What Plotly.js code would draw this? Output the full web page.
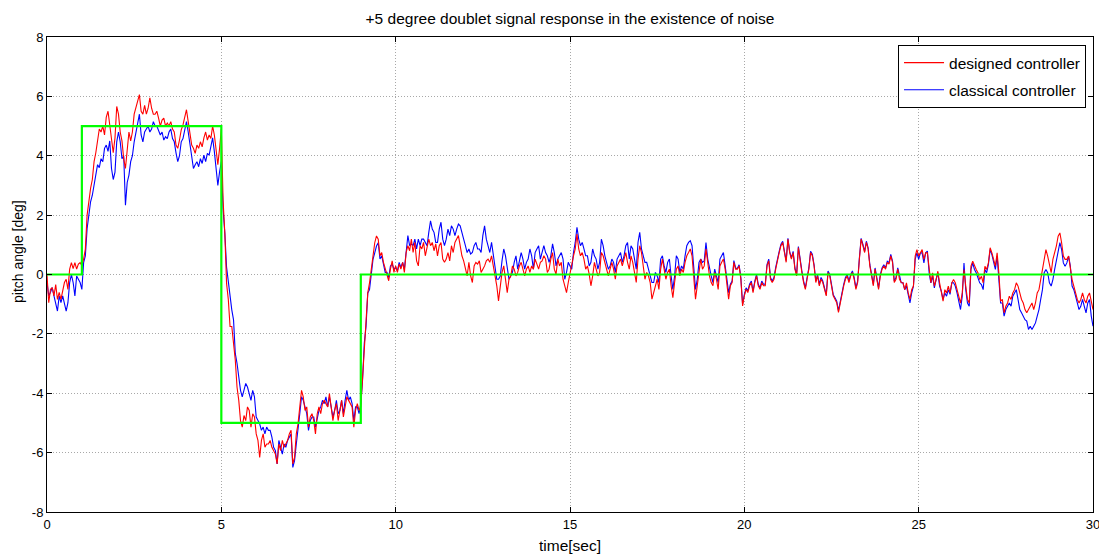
<!DOCTYPE html>
<html>
<head>
<meta charset="utf-8">
<script src="https://cdn.plot.ly/plotly-3.0.1.min.js"></script>
<style>
  html, body { margin: 0; padding: 0; background: #ffffff; }
  #chart { width: 1099px; height: 558px; }
</style>
</head>
<body>
<div id="chart"></div>
<script>
// Sampling step of the read-off series (seconds); one row = one second (20 samples)
const dt = 0.05;

// designed controller (red)
const designed = [
  0.0,-0.95,-0.5,-0.44,-0.72,-0.34,-0.84,-0.6,-0.84,-0.5, -0.27,-0.16,-0.5,0.18,0.4,0.2,0.4,0.18,0.35,0.4,
  0.3,0.52,0.86,2.0,2.55,2.9,3.2,3.8,4.1,4.6, 4.9,4.8,5.0,4.7,5.3,5.5,5.0,4.7,4.1,4.6,
  5.66,5.4,4.8,4.5,3.9,3.57,4.1,4.8,4.5,4.8, 5.4,5.6,5.8,6.06,5.5,5.4,5.7,5.4,5.6,5.95,
  5.6,5.4,5.4,5.5,5.27,5.0,5.2,5.27,5.0,5.1, 5.0,5.15,4.9,4.8,4.36,4.25,4.53,4.87,5.04,5.27,
  5.55,5.15,4.8,4.36,4.25,4.08,4.36,4.25,4.47,4.3, 4.6,4.8,4.53,4.7,4.58,5.0,4.7,4.25,3.7,4.25,
  4.9,2.5,1.4,-0.3,-0.84,-1.75,-1.75,-2.32,-2.88,-3.79, -4.24,-4.92,-5.14,-4.75,-4.92,-4.46,-4.58,-5.14,-4.69,-4.8,
  -5.37,-5.59,-6.16,-5.59,-5.37,-5.82,-5.71,-5.71,-5.59,-5.82, -5.93,-6.05,-6.38,-5.71,-5.93,-5.59,-5.82,-5.71,-5.59,-5.37,
  -5.25,-6.38,-6.16,-5.37,-5.03,-4.46,-3.9,-4.12,-4.58,-4.46, -5.14,-4.8,-4.69,-4.92,-5.37,-4.69,-4.46,-4.69,-4.35,-4.24,
  -4.35,-4.46,-4.01,-4.46,-4.92,-4.58,-4.35,-4.92,-4.58,-4.24, -4.8,-4.46,-4.12,-4.24,-4.35,-4.46,-5.14,-4.58,-4.35,-4.58,
  -4.46,-3.56,-2.43,-1.86,-0.62,-0.28,0.17,0.73,1.07,1.3, 1.19,0.63,0.74,0.41,0.18,-0.05,-0.21,0.18,0.46,0.07,
  0.29,0.07,0.35,0.18,0.41,0.07,0.74,0.97,0.8,1.19, 0.74,1.08,0.46,0.29,0.97,0.86,1.08,0.63,0.86,1.19,
  0.97,1.08,0.8,1.03,0.63,0.97,1.08,0.52,0.41,0.52, 0.74,0.46,0.97,0.74,1.08,1.19,1.31,0.97,0.63,0.46,
  0.18,-0.05,0.41,-0.05,-0.27,0.29,0.41,0.35,0.46,0.07, 0.18,0.29,0.46,0.52,0.41,0.63,0.29,-0.05,-0.38,-0.89,
  -0.38,0.07,0.29,-0.27,-0.61,-0.16,-0.05,0.29,0.18,-0.05, 0.07,0.29,0.41,0.18,-0.05,0.18,0.29,0.07,0.29,0.18,
  0.52,0.35,0.18,0.41,0.46,0.63,0.52,0.07,0.18,0.52, 0.74,0.18,0.01,0.52,0.29,0.41,-0.16,-0.38,-0.61,-0.27,
  0.07,0.29,0.63,0.86,1.36,0.86,0.63,0.74,0.52,0.18, 0.29,0.01,-0.38,-0.05,0.41,0.18,-0.05,0.07,0.74,0.63,
  0.41,0.18,-0.05,0.18,0.41,0.18,-0.16,0.29,0.41,0.52, 0.29,0.52,0.74,0.41,0.18,0.63,0.41,0.07,-0.27,0.52,
  0.97,0.74,0.18,-0.16,0.07,-0.05,-0.27,-0.83,-0.61,-0.38, -0.16,-0.5,0.18,0.52,0.18,-0.16,0.07,0.18,-0.38,-0.78,
  -0.27,0.18,0.29,-0.05,0.18,0.07,0.41,0.63,0.74,0.86, 0.63,-0.05,-0.83,-0.38,0.18,0.52,0.18,0.29,0.86,0.29,
  -0.05,-0.27,-0.38,0.07,-0.16,-0.5,0.29,0.41,0.52,0.18, -0.38,-0.83,-0.38,-0.27,0.41,0.18,0.18,0.29,-0.16,-1.06,
  -0.72,-0.5,-0.61,-0.38,-0.27,-0.61,-0.27,-0.05,-0.38,-0.5, -0.27,-0.38,-0.38,0.29,0.46,-0.16,-0.27,-0.16,0.18,0.52,
  0.74,0.97,1.08,0.74,0.41,1.19,0.74,0.52,0.74,0.18, -0.05,0.91,0.41,0.07,-0.27,-0.5,-0.16,0.18,0.74,0.63,
  0.29,-0.27,-0.05,-0.38,-0.16,-0.27,-0.5,-0.72,0.07,-0.05, -0.38,-0.72,-0.83,-0.95,-1.28,-0.95,-0.61,-0.38,-0.16,-0.05,
  -0.27,-0.05,0.07,-0.16,-0.5,-0.27,0.52,1.19,0.97,0.74, 1.08,0.86,0.29,-0.05,-0.38,0.18,-0.16,-0.5,-0.05,0.18,
  0.29,0.18,0.41,0.35,0.63,0.41,-0.27,-0.16,0.18,-0.16, -0.27,-0.28,-0.51,-0.28,-0.62,-0.84,-0.51,-0.39,0.62,0.84,
  0.62,0.73,0.84,0.51,0.73,0.73,0.17,-0.28,0.06,-0.39, -0.17,0.11,-0.28,-0.62,-0.9,-0.51,-0.62,-0.39,-0.62,-0.28,
  -0.17,-0.28,-0.51,-0.79,-0.96,-0.62,0.17,-0.39,-0.84,-0.96, 0.28,0.45,0.28,0.17,0.06,-0.17,-0.06,-0.28,0.28,0.17,
  0.39,0.9,0.73,0.51,0.28,0.73,0.06,-0.9,-0.84,-1.29, -1.07,-0.96,-0.73,-0.84,-0.62,-0.51,-0.28,-0.39,-0.62,-0.84,
  -0.96,-1.18,-1.29,-1.18,-1.07,-0.96,-1.18,-0.96,-0.62,-0.51, -0.17,0.17,0.51,0.84,0.62,0.28,0.06,0.51,0.73,0.96,
  1.29,1.4,1.07,0.62,0.51,0.51,0.62,0.17,-0.17,-0.39, -0.62,-0.84,-0.96,-0.84,-0.62,-0.84,-0.96,-0.73,-0.62,-0.96,
  -1.18
];

// classical controller (blue)
const classical = [
  -0.27,-0.72,-0.6,-0.44,-0.72,-0.95,-1.23,-0.72,-0.95,-0.72, -0.95,-1.23,-0.95,-0.27,0.0,-0.27,-0.72,-0.05,-0.16,-0.27,
  -0.5,0.4,0.63,1.54,2.0,2.45,2.67,3.0,3.45,3.7, 3.6,3.9,3.8,4.25,4.36,4.15,4.5,3.57,3.2,3.45,
  4.47,4.8,4.47,3.9,4.0,2.33,3.1,3.35,3.8,4.0, 4.47,4.8,5.15,5.4,4.7,4.47,4.8,4.9,5.0,4.8,
  4.9,5.15,5.0,5.0,4.87,4.7,4.8,4.53,4.64,4.58, 4.8,4.9,4.58,4.47,4.1,3.8,4.0,4.47,4.58,4.9,
  5.15,4.8,4.36,4.0,3.57,3.7,3.8,3.63,3.9,3.74, 4.02,3.8,4.08,4.02,4.36,4.6,4.14,3.57,3.0,3.46,
  3.8,2.2,1.4,0.25,-0.27,-0.85,-1.19,-1.53,-2.66,-2.99, -3.56,-3.9,-4.12,-3.9,-3.67,-3.79,-4.01,-4.24,-3.9,-4.12,
  -4.8,-4.92,-5.03,-5.25,-5.14,-5.37,-5.14,-5.25,-5.25,-5.48, -5.82,-5.93,-6.38,-5.59,-5.82,-6.05,-5.71,-5.82,-5.59,-5.48,
  -5.37,-6.5,-6.27,-5.71,-5.25,-4.69,-4.12,-4.24,-4.46,-4.69, -5.25,-4.92,-4.8,-4.8,-5.14,-4.8,-4.58,-4.46,-4.24,-4.35,
  -4.12,-4.46,-4.12,-4.46,-4.8,-4.58,-4.24,-4.69,-4.58,-4.24, -4.69,-4.24,-3.9,-4.24,-4.12,-4.35,-4.92,-4.46,-4.46,-4.69,
  -4.35,-3.56,-2.32,-1.75,-0.62,-0.51,0.06,0.51,0.73,0.96, 1.07,0.52,0.63,0.29,0.07,0.07,-0.1,0.29,0.35,0.18,
  0.24,0.12,0.41,0.24,0.41,0.18,0.74,1.31,0.97,1.03, 0.97,1.19,0.86,1.19,0.97,1.19,1.19,1.08,0.97,1.42,
  1.81,1.53,1.42,1.08,1.08,1.53,1.76,1.19,0.97,1.19, 1.53,1.31,1.64,1.53,1.31,1.53,1.7,1.64,1.36,1.19,
  0.97,0.74,0.86,0.69,0.74,0.97,1.08,0.86,0.86,0.74, 1.31,1.64,1.19,0.97,0.74,1.08,0.63,0.18,-0.16,-0.16,
  -0.05,0.46,0.86,0.63,0.18,-0.16,-0.05,0.07,0.41,0.63, 0.18,0.52,0.74,0.52,0.18,0.41,0.52,0.86,0.63,0.18,
  0.74,0.86,0.97,0.52,0.74,0.97,0.74,0.63,0.41,0.63, 1.03,0.74,0.29,0.52,0.63,0.74,0.52,-0.16,0.07,0.41,
  0.29,0.18,0.74,1.08,1.59,1.19,0.97,1.08,0.86,0.63, 0.63,0.29,0.41,0.86,0.63,0.52,0.18,0.41,1.19,0.97,
  0.63,0.41,0.18,0.29,0.52,0.41,0.07,0.52,0.63,0.74, 0.41,0.63,0.97,1.08,0.52,0.97,0.86,0.52,0.18,1.08,
  1.42,0.86,0.63,0.41,0.41,0.18,0.01,-0.27,-0.27,0.07, -0.05,-0.27,0.52,0.63,0.29,0.07,0.41,0.52,-0.05,-0.5,
  -0.05,0.63,0.52,0.07,0.29,0.18,0.63,0.97,1.08,1.14, 0.97,0.29,-0.5,-0.16,0.41,0.52,0.41,0.46,1.08,0.52,
  0.18,-0.05,-0.27,0.18,-0.05,-0.27,0.52,0.63,0.74,0.29, -0.27,-0.61,-0.33,-0.22,0.47,0.22,0.2,0.33,-0.1,-1.0,
  -0.68,-0.45,-0.55,-0.33,-0.22,-0.56,-0.22,0.0,-0.33,-0.45, -0.22,-0.33,-0.33,0.33,0.52,-0.1,-0.22,-0.1,0.24,0.56,
  0.78,1.02,1.12,0.78,0.47,1.22,0.78,0.56,0.78,0.22, 0.0,0.94,0.47,0.12,-0.22,-0.45,-0.1,0.22,0.78,0.68,
  0.33,-0.22,0.0,-0.33,-0.1,-0.22,-0.45,-0.68,0.12,0.0, -0.33,-0.68,-0.78,-0.9,-1.22,-0.9,-0.56,-0.33,-0.1,0.0,
  -0.22,0.0,0.12,-0.1,-0.45,-0.22,0.56,1.22,1.02,0.78, 1.12,0.9,0.33,0.0,-0.33,0.22,-0.1,-0.45,0.0,0.22,
  0.33,0.22,0.45,0.4,0.68,0.45,-0.22,-0.1,0.22,-0.1, -0.28,-0.28,-0.51,-0.39,-0.73,-0.96,-0.62,-0.39,0.51,0.73,
  0.51,0.73,0.73,0.39,0.73,0.79,0.06,-0.28,-0.06,-0.45, -0.17,0.06,-0.39,-0.56,-0.84,-0.62,-0.73,-0.51,-0.67,-0.28,
  -0.28,-0.39,-0.62,-0.96,-1.18,-0.73,0.39,-0.51,-0.96,-1.07, 0.17,0.39,0.17,0.06,-0.11,-0.28,-0.34,-0.51,0.17,0.06,
  0.34,0.84,0.67,0.39,0.17,0.62,-0.06,-0.96,-0.96,-1.4, -1.18,-1.07,-0.96,-1.07,-0.73,-0.62,-0.51,-0.84,-1.18,-1.29,
  -1.4,-1.52,-1.57,-1.85,-1.74,-1.85,-1.74,-1.63,-1.4,-1.18, -0.84,-0.51,0.06,0.17,0.06,-0.28,-0.39,-0.17,0.17,0.51,
  0.73,1.07,0.84,0.39,0.28,0.39,0.62,0.28,-0.39,-0.51, -0.73,-0.96,-1.18,-1.07,-0.84,-1.07,-1.29,-0.96,-0.84,-1.4,
  -1.74
];

// reference doublet command
const refTime = [0, 1, 1, 5, 5, 9, 9, 30];
const refValue = [0, 0, 5, 5, -5, -5, 0, 0];

const xTicks = [0, 5, 10, 15, 20, 25, 30];
const yTicks = [-8, -6, -4, -2, 0, 2, 4, 6, 8];

const titleText = '+5 degree doublet signal response in the existence of noise';
const xLabel = 'time[sec]';
const yLabel = 'pitch angle [deg]';
const names = ['designed controller', 'classical controller'];

const timeOf = arr => arr.map((_, i) => +(i * dt).toFixed(3));

const FONT = '"Liberation Sans", Arial, Helvetica, sans-serif';

const traces = [
  { x: timeOf(classical), y: classical, type: 'scatter', mode: 'lines', name: names[1],
    line: { color: '#0000ff', width: 1.1 }, legendrank: 2, legendgroup: 'b' },
  { x: timeOf(designed), y: designed, type: 'scatter', mode: 'lines', name: names[0],
    line: { color: '#ff0000', width: 1.1 }, legendrank: 1, legendgroup: 'a' },
  { x: refTime, y: refValue, type: 'scatter', mode: 'lines', showlegend: false,
    line: { color: '#00ff00', width: 2.2 }, hoverinfo: 'skip' }
];

const axisCommon = {
  showline: true, linecolor: '#000', linewidth: 1, mirror: 'ticks',
  ticks: 'inside', ticklen: 5, tickcolor: '#000', tickwidth: 1,
  showgrid: true, gridcolor: '#a8a8a8', griddash: '1px,2px', gridwidth: 1,
  zeroline: false, ticklabeloverflow: 'allow',
  tickfont: { family: FONT, size: 13, color: '#000' }
};

const layout = {
  width: 1099, height: 558,
  paper_bgcolor: '#ffffff', plot_bgcolor: '#ffffff',
  margin: { l: 47, r: 6, t: 37, b: 46 },
  showlegend: true,
  font: { family: FONT, color: '#000' },
  title: { text: titleText, font: { family: FONT, size: 15.5, color: '#000' },
           x: 0.5, xref: 'paper', xanchor: 'center',
           y: 1 - 19 / 558, yref: 'container', yanchor: 'middle' },
  xaxis: Object.assign({}, axisCommon, {
    range: [0, 30], tickmode: 'array', tickvals: xTicks, ticktext: xTicks.map(String),
    title: { text: xLabel, font: { family: FONT, size: 15.5, color: '#000' }, standoff: 9 }
  }),
  yaxis: Object.assign({}, axisCommon, {
    range: [-8, 8], tickmode: 'array', tickvals: yTicks, ticktext: yTicks.map(String)
  }),
  annotations: [{
    text: yLabel, textangle: -90, showarrow: false,
    xref: 'paper', x: (18 - 47) / 1046, xanchor: 'center',
    yref: 'paper', y: (512 - 252) / 475, yanchor: 'middle',
    font: { family: FONT, size: 14, color: '#000' }
  }],
  legend: {
    x: 0.8136, y: 0.983, xanchor: 'left', yanchor: 'top',
    bgcolor: '#ffffff', bordercolor: '#000', borderwidth: 1,
    font: { family: FONT, size: 15.5, color: '#000' },
    tracegroupgap: 4, itemwidth: 40
  }
};

Plotly.newPlot('chart', traces, layout, { displayModeBar: false, staticPlot: true });
</script>
</body>
</html>
